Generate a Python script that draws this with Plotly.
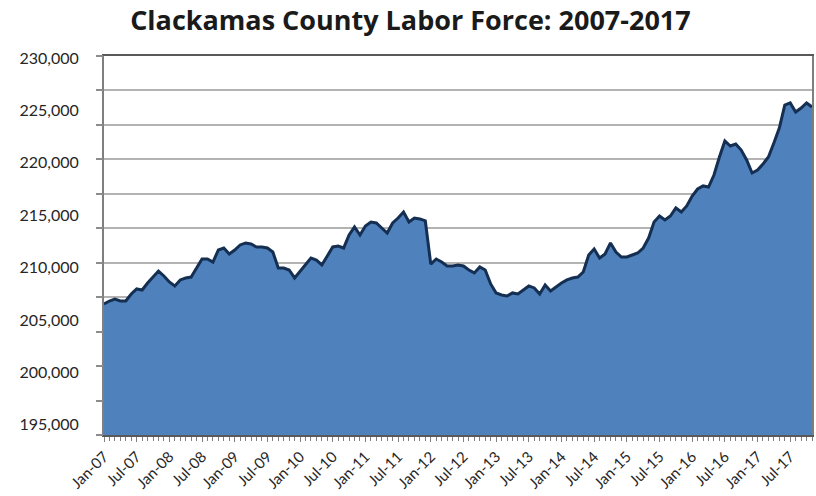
import plotly.graph_objects as go

month_labels = []
for yr in range(7, 18):
    for m in ["Jan", "Feb", "Mar", "Apr", "May", "Jun", "Jul", "Aug", "Sep", "Oct", "Nov", "Dec"]:
        month_labels.append(f"{m}-{yr:02d}")
month_labels = month_labels[:131]  # Jan-07 .. Nov-17

labor_force = [
    206530, 206810, 207000, 206810, 206810, 207480, 207960, 207860, 208530, 209100, 209670, 209200,
    208630, 208250, 208820, 209010, 209100, 209960, 210820, 210820, 210530, 211680, 211870, 211300,
    211680, 212160, 212350, 212250, 211970, 211970, 211870, 211490, 209960, 209960, 209770, 209010,
    209670, 210340, 210910, 210720, 210250, 211110, 211970, 212060, 211870, 213110, 213880, 213110,
    213970, 214350, 214260, 213780, 213300, 214260, 214730, 215300, 214350, 214730, 214640, 214450,
    210340, 210820, 210530, 210150, 210150, 210250, 210150, 209770, 209490, 210060, 209770, 208440,
    207580, 207390, 207290, 207580, 207480, 207860, 208250, 208060, 207480, 208340, 207770, 208150,
    208530, 208820, 209010, 209100, 209580, 211200, 211770, 210910, 211300, 212350, 211490, 211010,
    211010, 211200, 211390, 211870, 212820, 214350, 214920, 214540, 214920, 215690, 215300, 215880,
    216830, 217500, 217790, 217690, 218830, 220550, 222080, 221600, 221790, 221220, 220270, 219030,
    219310, 219880, 220550, 221890, 223320, 225510, 225710, 224850, 225230, 225710, 225330,
]

y_tick_vals = [195000, 200000, 205000, 210000, 215000, 220000, 225000, 230000]
y_tick_text = ["195,000", "200,000", "205,000", "210,000", "215,000", "220,000", "225,000", "230,000"]
x_tick_idx = list(range(0, 131, 6))
x_tick_text = [month_labels[i] for i in x_tick_idx]
grid_steps = list(range(0, 12))

x_idx = list(range(len(labor_force)))

FONT = "Lato"

fig = go.Figure()
fig.add_trace(go.Scatter(
    x=x_idx, y=labor_force, mode="lines", fill="tozeroy",
    fillcolor="#4F81BD", line=dict(color="#142F52", width=3),
    showlegend=False, hoverinfo="skip",
))
# invisible trace to carry the gridline axis
fig.add_trace(go.Scatter(
    x=[0, 0], y=[grid_steps[0], grid_steps[-1]], yaxis="y2", mode="lines",
    line=dict(color="rgba(0,0,0,0)"), showlegend=False, hoverinfo="skip",
))

fig.update_layout(
    width=816, height=496,
    margin=dict(l=104, r=2, t=56, b=61),
    paper_bgcolor="white", plot_bgcolor="white",
    title=dict(text="<b>Clackamas County Labor Force: 2007-2017</b>",
               x=0.503, xanchor="center", y=0.958, yanchor="middle",
               font=dict(family="Open Sans", size=27, color="#1a1a1a")),
    xaxis=dict(
        range=[0, 130], tickmode="array", tickvals=x_tick_idx, ticktext=x_tick_text,
        tickangle=-45, tickfont=dict(family=FONT, size=15, color="#262626"),
        ticks="outside", ticklen=5, tickcolor="#7f7f7f", tickwidth=1,
        minor=dict(ticks="outside", ticklen=4, dtick=1, tick0=0, tickcolor="#7f7f7f", tickwidth=1),
        showline=True, linecolor="#595959", linewidth=2, mirror=True,
        showgrid=False, zeroline=False,
    ),
    yaxis=dict(
        range=[194026, 230190], tickmode="array", tickvals=y_tick_vals, ticktext=y_tick_text,
        tickfont=dict(family=FONT, size=16, color="#262626"),
        ticks="", ticklabelstandoff=20,
        showline=True, linecolor="#7f7f7f", linewidth=2, mirror=True,
        showgrid=False, zeroline=False,
    ),
    yaxis2=dict(
        overlaying="y", side="left", range=[0, 11], tickmode="array", tickvals=grid_steps,
        showticklabels=False, ticks="outside", ticklen=7, tickcolor="#8c8c8c", tickwidth=1.5,
        showgrid=True, gridcolor="#b3b3b3", gridwidth=2, zeroline=False, showline=False,
    ),
)

fig.write_html("out.html")
